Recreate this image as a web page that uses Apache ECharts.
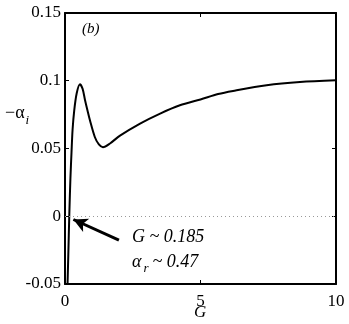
<!DOCTYPE html>
<html>
<head>
<meta charset="utf-8">
<script src="https://cdn.jsdelivr.net/npm/echarts@6/dist/echarts.min.js"></script>
<style>
  html, body { margin: 0; padding: 0; background: #fff; }
  #chart { width: 349px; height: 324px; }
</style>
</head>
<body>
<div id="chart"></div>
<script>
// G values and -alpha_i
const gVals = [0.08, 0.12, 0.16, 0.2, 0.24, 0.28, 0.34, 0.43, 0.55, 0.65, 0.74, 0.83, 0.92, 1.1, 1.25, 1.4, 1.66, 2.03, 2.77, 3.51, 4.24, 5.0, 5.65, 6.2, 7.44, 8.67, 10];
const alphaVals = [-0.06, -0.03, 0.002, 0.028, 0.047, 0.064, 0.078, 0.0906, 0.0974, 0.094, 0.0856, 0.078, 0.0708, 0.0585, 0.053, 0.051, 0.0537, 0.0595, 0.0684, 0.0758, 0.0819, 0.0862, 0.0902, 0.0925, 0.0967, 0.0991, 0.1004];
const xTicks = [0, 5, 10];
// arrow from annotation text to the crossing point
const arrowFrom = [1.99, -0.0177];
const arrowTo = [0.31, -0.0024];

const chart = echarts.init(document.getElementById('chart'));
const serif = 'Liberation Serif';

function boxAxis(extra) {
    return Object.assign({
        type: 'value',
        axisLine: { show: true, onZero: false, lineStyle: { color: '#000', width: 2 } },
        axisTick: { show: true, inside: true, length: 4, lineStyle: { color: '#000' } },
        axisLabel: { show: false },
        splitLine: { show: false }
    }, extra);
}

const option = {
    animation: false,
    grid: { left: 65, right: 13, top: 13, bottom: 40 },
    xAxis: [
        boxAxis({
            min: 0, max: 10, interval: 5, position: 'bottom',
            axisLabel: { color: '#000', fontFamily: serif, fontSize: 17, margin: 9,
                formatter: v => xTicks.indexOf(v) >= 0 ? String(v) : '' }
        }),
        boxAxis({ min: 0, max: 10, interval: 5, position: 'top' })
    ],
    yAxis: [
        boxAxis({
            min: -0.05, max: 0.15, interval: 0.05, position: 'left',
            axisLabel: { color: '#000', fontFamily: serif, fontSize: 17, margin: 4,
                formatter: v => {
                    const r = Math.round(v * 100) / 100;
                    return r === 0 ? '0' : String(r);
                } }
        }),
        boxAxis({ min: -0.05, max: 0.15, interval: 0.05, position: 'right' })
    ],
    series: [{
        type: 'line',
        data: gVals.map((g, i) => [g, alphaVals[i]]),
        smooth: 0.3,
        showSymbol: false,
        clip: true,
        lineStyle: { color: '#000', width: 2 },
        markLine: {
            silent: true,
            animation: false,
            label: { show: false },
            data: [
                [
                    { coord: [0, 0], symbol: 'none', lineStyle: { color: '#999', width: 1, type: [1, 3] } },
                    { coord: [10, 0], symbol: 'none' }
                ],
                [
                    { coord: arrowFrom, symbol: 'none', lineStyle: { color: '#000', width: 3, type: 'solid' } },
                    { coord: arrowTo, symbol: 'arrow', symbolSize: [11, 14] }
                ]
            ]
        }
    }],
    graphic: [
        {
            type: 'text', left: 82, top: 22,
            style: { text: '(b)', font: 'italic 15px "Liberation Serif"', fill: '#000' }
        },
        {
            type: 'text', left: 132, top: 228,
            style: { text: 'G ~ 0.185', font: 'italic 18px "Liberation Serif"', fill: '#000' }
        },
        {
            type: 'text', left: 132, top: 253,
            style: {
                text: '{a|α}{s|r}{a|~ 0.47}',
                rich: {
                    a: { font: 'italic 18px "Liberation Serif"', fill: '#000', padding: [0, 2, 0, 0] },
                    s: { font: 'italic 13px "Liberation Serif"', fill: '#000', padding: [14, 4, 0, 0] }
                }
            }
        },
        {
            type: 'text', left: 5, top: 104,
            style: {
                text: '{a|−α}{s|i}',
                rich: {
                    a: { font: '18px "Liberation Serif"', fill: '#000' },
                    s: { font: 'italic 13px "Liberation Serif"', fill: '#000', padding: [16, 0, 0, 1] }
                }
            }
        },
        {
            type: 'text', left: 194, top: 304,
            style: { text: 'G', font: 'italic 17px "Liberation Serif"', fill: '#000' }
        }
    ]
};
chart.setOption(option);
</script>
</body>
</html>
